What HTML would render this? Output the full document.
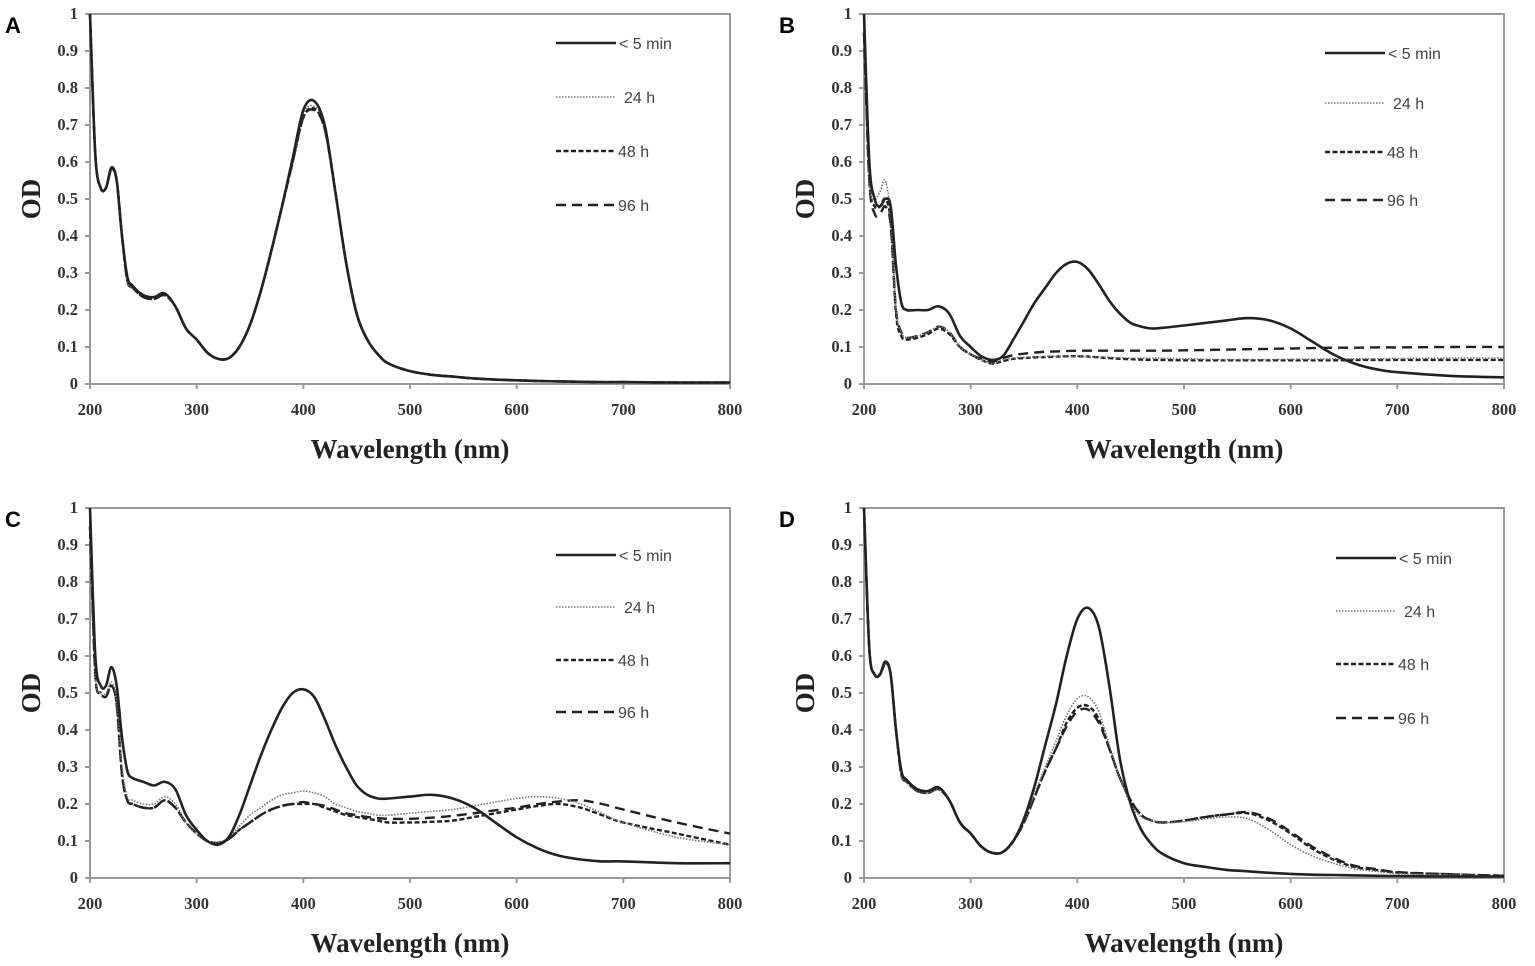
<!DOCTYPE html>
<html><head><meta charset="utf-8">
<style>
html,body{margin:0;padding:0;background:#fff;}
svg{display:block;}
.tick{font-family:"Liberation Serif",serif;font-weight:bold;font-size:16.5px;fill:#333;}
.axt{font-family:"Liberation Serif",serif;font-weight:bold;font-size:27px;fill:#222;}
.leg{font-family:"Liberation Sans",sans-serif;font-size:16px;fill:#444;}
.pl{font-family:"Liberation Sans",sans-serif;font-weight:bold;font-size:22px;fill:#000;}
</style></head>
<body>
<svg id="fig" width="1535" height="966" viewBox="0 0 1535 966"></svg>
<script>
const wl=[200,205,210,215,220,225,230,235,240,250,260,270,280,290,300,310,320,330,340,350,360,370,380,390,400,410,420,430,440,450,460,470,480,500,520,540,560,580,600,620,640,660,680,700,750,800];
const seriesNames=["< 5 min","24 h","48 h","96 h"];
const xTicks=[200,300,400,500,600,700,800];
const yTicks=[0,0.1,0.2,0.3,0.4,0.5,0.6,0.7,0.8,0.9,1];
const yTickLabels=["0","0.1","0.2","0.3","0.4","0.5","0.6","0.7","0.8","0.9","1"];
// Panel A
const A_5min=[1.0,0.62,0.53,0.53,0.585,0.55,0.40,0.29,0.265,0.24,0.235,0.245,0.21,0.15,0.12,0.085,0.068,0.07,0.10,0.16,0.25,0.36,0.48,0.61,0.74,0.765,0.70,0.52,0.33,0.19,0.12,0.08,0.055,0.035,0.025,0.02,0.015,0.012,0.01,0.008,0.007,0.006,0.005,0.005,0.004,0.004];
const A_24h=[1.0,0.62,0.53,0.53,0.58,0.55,0.40,0.28,0.26,0.24,0.235,0.245,0.21,0.15,0.12,0.085,0.068,0.07,0.10,0.16,0.25,0.36,0.48,0.60,0.73,0.75,0.70,0.52,0.33,0.19,0.12,0.08,0.055,0.035,0.025,0.02,0.015,0.012,0.01,0.008,0.007,0.006,0.005,0.005,0.004,0.004];
const A_48h=[1.0,0.62,0.53,0.53,0.58,0.55,0.40,0.28,0.26,0.235,0.23,0.24,0.21,0.15,0.12,0.085,0.068,0.07,0.10,0.16,0.25,0.36,0.48,0.60,0.72,0.745,0.69,0.52,0.33,0.19,0.12,0.08,0.055,0.035,0.025,0.02,0.015,0.012,0.01,0.008,0.007,0.006,0.005,0.005,0.004,0.004];
const A_96h=[1.0,0.62,0.53,0.53,0.58,0.55,0.40,0.28,0.26,0.235,0.23,0.24,0.21,0.15,0.12,0.085,0.068,0.07,0.10,0.16,0.25,0.36,0.48,0.60,0.72,0.74,0.69,0.52,0.33,0.19,0.12,0.08,0.055,0.035,0.025,0.02,0.015,0.012,0.01,0.008,0.007,0.006,0.005,0.005,0.004,0.004];
// Panel B
const B_5min=[1.0,0.60,0.50,0.48,0.50,0.48,0.32,0.22,0.20,0.20,0.20,0.21,0.19,0.13,0.10,0.075,0.065,0.075,0.12,0.17,0.22,0.26,0.30,0.325,0.33,0.31,0.27,0.225,0.19,0.165,0.155,0.15,0.152,0.158,0.165,0.172,0.178,0.172,0.15,0.115,0.08,0.055,0.04,0.032,0.022,0.018];
const B_24h=[0.95,0.55,0.50,0.52,0.55,0.45,0.20,0.14,0.125,0.13,0.14,0.155,0.14,0.10,0.08,0.065,0.055,0.065,0.07,0.072,0.073,0.074,0.075,0.075,0.075,0.074,0.073,0.072,0.071,0.07,0.07,0.07,0.07,0.068,0.067,0.066,0.066,0.066,0.067,0.067,0.068,0.068,0.068,0.069,0.07,0.07];
const B_48h=[0.95,0.55,0.48,0.48,0.50,0.44,0.19,0.13,0.12,0.125,0.135,0.15,0.135,0.10,0.08,0.065,0.055,0.062,0.068,0.07,0.072,0.073,0.074,0.075,0.075,0.074,0.072,0.07,0.068,0.067,0.066,0.065,0.065,0.064,0.064,0.064,0.064,0.064,0.064,0.064,0.064,0.065,0.065,0.065,0.065,0.065];
const B_96h=[0.95,0.55,0.46,0.46,0.48,0.43,0.20,0.14,0.125,0.13,0.14,0.155,0.14,0.10,0.08,0.068,0.06,0.07,0.078,0.082,0.085,0.087,0.088,0.089,0.09,0.09,0.09,0.09,0.09,0.09,0.09,0.09,0.09,0.091,0.092,0.093,0.094,0.095,0.096,0.097,0.098,0.098,0.099,0.099,0.1,0.1];
// Panel C
const C_5min=[1.0,0.60,0.52,0.52,0.57,0.52,0.38,0.29,0.27,0.26,0.25,0.26,0.24,0.17,0.13,0.10,0.09,0.11,0.17,0.25,0.33,0.40,0.46,0.50,0.51,0.49,0.43,0.36,0.30,0.25,0.225,0.215,0.215,0.22,0.225,0.215,0.19,0.15,0.11,0.08,0.06,0.05,0.045,0.045,0.04,0.04];
const C_24h=[0.95,0.55,0.50,0.50,0.53,0.48,0.30,0.22,0.21,0.20,0.20,0.22,0.20,0.15,0.12,0.10,0.095,0.11,0.14,0.17,0.19,0.21,0.225,0.23,0.235,0.23,0.22,0.20,0.19,0.18,0.175,0.17,0.17,0.175,0.18,0.185,0.195,0.205,0.215,0.22,0.215,0.20,0.175,0.15,0.11,0.09];
const C_48h=[0.95,0.55,0.50,0.49,0.52,0.47,0.28,0.21,0.20,0.19,0.19,0.21,0.19,0.15,0.12,0.10,0.095,0.105,0.13,0.15,0.17,0.185,0.195,0.20,0.20,0.20,0.19,0.18,0.17,0.165,0.16,0.155,0.15,0.15,0.152,0.155,0.165,0.175,0.185,0.195,0.20,0.19,0.17,0.15,0.12,0.09];
const C_96h=[0.95,0.55,0.50,0.49,0.52,0.47,0.28,0.21,0.20,0.19,0.19,0.21,0.19,0.15,0.12,0.10,0.095,0.105,0.13,0.15,0.17,0.185,0.195,0.20,0.205,0.20,0.195,0.185,0.175,0.17,0.165,0.162,0.16,0.16,0.163,0.168,0.175,0.183,0.19,0.20,0.207,0.21,0.20,0.185,0.15,0.12];
// Panel D
const D_5min=[1.0,0.62,0.55,0.55,0.585,0.55,0.40,0.29,0.265,0.24,0.235,0.245,0.21,0.15,0.12,0.085,0.068,0.07,0.10,0.16,0.25,0.36,0.47,0.60,0.70,0.73,0.68,0.52,0.32,0.20,0.13,0.09,0.065,0.04,0.03,0.022,0.018,0.014,0.011,0.009,0.008,0.007,0.006,0.005,0.004,0.004];
const D_24h=[1.0,0.62,0.55,0.55,0.58,0.55,0.40,0.28,0.26,0.235,0.23,0.24,0.21,0.15,0.12,0.085,0.068,0.07,0.10,0.15,0.23,0.30,0.37,0.44,0.485,0.49,0.45,0.36,0.27,0.20,0.165,0.155,0.15,0.152,0.16,0.165,0.16,0.13,0.09,0.06,0.04,0.025,0.018,0.012,0.008,0.005];
const D_48h=[1.0,0.62,0.55,0.55,0.58,0.55,0.40,0.28,0.26,0.235,0.23,0.24,0.21,0.15,0.12,0.085,0.068,0.07,0.10,0.15,0.22,0.29,0.35,0.42,0.46,0.465,0.43,0.35,0.27,0.21,0.17,0.155,0.15,0.155,0.165,0.172,0.175,0.155,0.12,0.08,0.05,0.03,0.022,0.015,0.01,0.006];
const D_96h=[1.0,0.62,0.55,0.55,0.58,0.55,0.40,0.28,0.26,0.235,0.23,0.24,0.21,0.15,0.12,0.085,0.068,0.07,0.10,0.15,0.22,0.29,0.35,0.41,0.45,0.455,0.42,0.35,0.27,0.21,0.17,0.155,0.15,0.155,0.165,0.172,0.178,0.16,0.125,0.085,0.055,0.033,0.024,0.016,0.01,0.006];

const panels=[
 {id:"a",letter:"A",x0:90,x1:730,yTop:14,yBot:384,lx:556,ly:[43,97,151,205],series:[A_5min,A_24h,A_48h,A_96h]},
 {id:"b",letter:"B",x0:864,x1:1504,yTop:14,yBot:384,lx:1325,ly:[53,103,152,200],series:[B_5min,B_24h,B_48h,B_96h]},
 {id:"c",letter:"C",x0:90,x1:730,yTop:508,yBot:878,lx:556,ly:[555,607,660,712],series:[C_5min,C_24h,C_48h,C_96h]},
 {id:"d",letter:"D",x0:864,x1:1504,yTop:508,yBot:878,lx:1336,ly:[558,611,664,718],series:[D_5min,D_24h,D_48h,D_96h]}
];
const styles=[
 {dash:"",w:2.6,c:"#222"},
 {dash:"1.5,1.5",w:1.6,c:"#777"},
 {dash:"5,2.5",w:2.4,c:"#222"},
 {dash:"10,6",w:2.4,c:"#222"}
];
const NS="http://www.w3.org/2000/svg";
const svg=document.getElementById("fig");
function mk(tag,attrs,parent){const e=document.createElementNS(NS,tag);for(const k in attrs)e.setAttribute(k,attrs[k]);(parent||svg).appendChild(e);return e;}
function smooth(pts){let d="M"+pts[0][0].toFixed(1)+","+pts[0][1].toFixed(1);
 for(let i=0;i<pts.length-1;i++){const p0=pts[Math.max(0,i-1)],p1=pts[i],p2=pts[i+1],p3=pts[Math.min(pts.length-1,i+2)];
  const c1=[p1[0]+(p2[0]-p0[0])/6,p1[1]+(p2[1]-p0[1])/6],c2=[p2[0]-(p3[0]-p1[0])/6,p2[1]-(p3[1]-p1[1])/6];
  d+="C"+c1[0].toFixed(1)+","+c1[1].toFixed(1)+" "+c2[0].toFixed(1)+","+c2[1].toFixed(1)+" "+p2[0].toFixed(1)+","+p2[1].toFixed(1);}
 return d;}
panels.forEach(p=>{
 const g=mk("g",{});
 
 
 const xs=v=>p.x0+(v-200)/600*(p.x1-p.x0);
 const ys=v=>p.yBot-v*(p.yBot-p.yTop);
 const frame=mk("rect",{x:p.x0,y:p.yTop,width:p.x1-p.x0,height:p.yBot-p.yTop,fill:"none",stroke:"#999","stroke-width":2},g);
 
 
 const lt=mk("text",{x:p.x0-85,y:p.yTop+19,class:"pl"},g);lt.textContent=p.letter;
 
 
 yTicks.forEach((t,i)=>{
  mk("line",{x1:p.x0-5,x2:p.x0,y1:ys(t),y2:ys(t),stroke:"#999","stroke-width":2},g);
  const tx=mk("text",{x:p.x0-12,y:ys(t)+5,"text-anchor":"end",class:"tick"},g);tx.textContent=yTickLabels[i];
  
  
 });
 xTicks.forEach(t=>{
  mk("line",{x1:xs(t),x2:xs(t),y1:p.yBot,y2:p.yBot+5,stroke:"#999","stroke-width":2},g);
  const tx=mk("text",{x:xs(t),y:p.yBot+31,"text-anchor":"middle",class:"tick"},g);tx.textContent=t;
  
  
 });
 const xt=mk("text",{x:(p.x0+p.x1)/2,y:p.yBot+74,"text-anchor":"middle",class:"axt"},g);xt.textContent="Wavelength (nm)";
 
 
 const cy=(p.yTop+p.yBot)/2;
 const yt=mk("text",{x:p.x0-59,y:cy+9,"text-anchor":"middle",class:"axt",transform:"rotate(-90 "+(p.x0-59)+" "+cy+")"},g);yt.textContent="OD";
 
 
 for(let s=3;s>=0;s--){
  const pts=wl.map((w,i)=>[xs(w),ys(p.series[s][i])]);
  const st=styles[s];
  const path=mk("path",{d:smooth(pts),fill:"none",stroke:st.c,"stroke-width":st.w,"stroke-dasharray":st.dash,"stroke-linejoin":"round"},g);
  
  
 }
 seriesNames.forEach((n,s)=>{
  const st=styles[s];
  const le=mk("g",{},g);
  
  
  mk("line",{x1:p.lx,x2:p.lx+60,y1:p.ly[s],y2:p.ly[s],stroke:st.c,"stroke-width":st.w,"stroke-dasharray":st.dash},le);
  const t=mk("text",{x:p.lx+(s==0?63:(s==1?68:62)),y:p.ly[s]+6,class:"leg"},le);t.textContent=n;
 });
});
</script>
</body></html>
